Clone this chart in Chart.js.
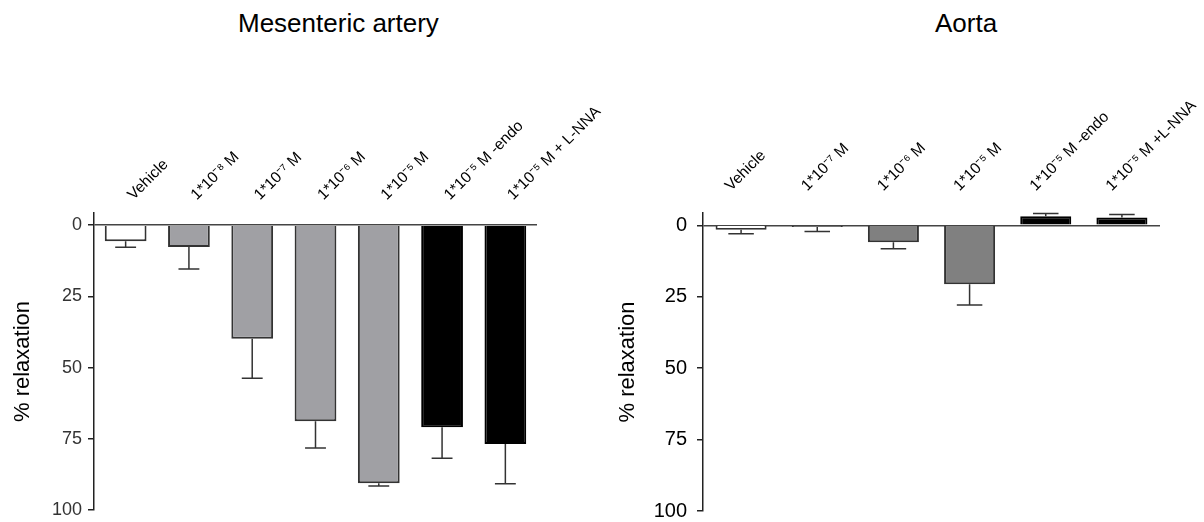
<!DOCTYPE html>
<html>
<head>
<meta charset="utf-8">
<script src="https://cdn.jsdelivr.net/npm/chart.js@4/dist/chart.umd.min.js"></script>
<style>
  html, body { margin: 0; padding: 0; background: #fff; overflow: hidden; }
  body { width: 1204px; height: 522px; position: relative; font-family: "Liberation Sans", Arial, sans-serif; }
  .title { position: absolute; top: 10px; font-size: 26px; line-height: 26px; color: #000; white-space: nowrap; }
  .panel { position: absolute; top: 0; width: 602px; height: 522px; }
</style>
</head>
<body>
<div class="title" style="left:238px">Mesenteric artery</div>
<div class="title" style="left:935px">Aorta</div>
<div class="panel" style="left:0"><canvas id="mesChart" width="602" height="522"></canvas></div>
<div class="panel" style="left:602px"><canvas id="aortaChart" width="602" height="522"></canvas></div>
<script>
// Mesenteric artery
const mesLabels = ['Vehicle', '1*10⁻⁸ M', '1*10⁻⁷ M', '1*10⁻⁶ M', '1*10⁻⁵ M', '1*10⁻⁵ M -endo', '1*10⁻⁵ M + L-NNA'];
const mesValues = [5.6, 7.6, 39.9, 68.8, 90.6, 70.9, 76.8];
const mesErrors = [2.1, 7.8, 13.8, 9.4, 1.0, 10.9, 14.0];
const mesColors = ['#ffffff', '#a0a0a4', '#a0a0a4', '#a0a0a4', '#a0a0a4', '#000000', '#000000'];

// Aorta
const aortaLabels = ['Vehicle', '1*10⁻⁷ M', '1*10⁻⁶ M', '1*10⁻⁵ M', '1*10⁻⁵ M -endo', '1*10⁻⁵ M +L-NNA'];
const aortaValues = [1.6, 0.6, 5.9, 20.6, -3.2, -2.7];
const aortaErrors = [1.4, 1.6, 2.3, 7.3, 0.9, 1.1];
const aortaColors = ['#ffffff', '#808080', '#808080', '#808080', '#000000', '#000000'];

// y axis
const yTicks = [0, 25, 50, 75, 100];
const yMin = -4.3;
const yMax = 100;

const FONT = '"Liberation Sans", Arial, sans-serif';

// One-sided error bars, drawn away from zero
const errorBars = {
  id: 'errorBars',
  afterDatasetsDraw(chart, args, opts) {
    const ds = chart.data.datasets[0];
    const meta = chart.getDatasetMeta(0);
    const yScale = chart.scales.y;
    const ctx = chart.ctx;
    ctx.save();
    ctx.strokeStyle = opts.color;
    ctx.lineWidth = opts.width;
    meta.data.forEach((bar, i) => {
      const v = ds.data[i];
      const err = ds.errors[i];
      const y0 = yScale.getPixelForValue(v);
      const y1 = yScale.getPixelForValue(v < 0 ? v - err : v + err);
      const half = bar.width * opts.cap / 2;
      ctx.beginPath();
      ctx.moveTo(bar.x, y0);
      ctx.lineTo(bar.x, y1);
      ctx.moveTo(bar.x - half, y1);
      ctx.lineTo(bar.x + half, y1);
      ctx.stroke();
    });
    ctx.restore();
  }
};

function createPanel(id, labels, values, errors, colors, g) {
  const ctx = document.getElementById(id).getContext('2d');
  return new Chart(ctx, {
    type: 'bar',
    data: {
      labels,
      datasets: [{
        data: values,
        errors,
        backgroundColor: colors,
        borderColor: colors.map(c => c === '#000000' ? '#000000' : '#333333'),
        borderWidth: 2,
        categoryPercentage: 1,
        barPercentage: g.barPct,
      }],
    },
    options: {
      responsive: false,
      animation: false,
      layout: { padding: { left: 0, right: g.padRight, top: 0, bottom: g.padBottom } },
      plugins: {
        legend: { display: false },
        tooltip: { enabled: false },
        errorBars: { color: '#333', width: 1.5, cap: 0.5 },
      },
      scales: {
        x: {
          position: 'top',
          offset: true,
          afterFit: s => { s.height = 213; s.paddingLeft = 0; s.paddingRight = 0; },
          grid: { display: false, drawTicks: false },
          border: { display: false },
          ticks: {
            autoSkip: false,
            minRotation: 45,
            maxRotation: 45,
            padding: g.labelPad,
            labelOffset: g.labelShift,
            font: { family: FONT, size: 15.5 },
            color: '#000',
          },
        },
        y: {
          reverse: true,
          min: yMin,
          max: yMax,
          afterBuildTicks: s => { s.ticks = yTicks.map(v => ({ value: v })); },
          afterFit: s => { s.width = g.axisWidth; s.paddingTop = 0; s.paddingBottom = 0; },
          border: { display: true, color: '#222', width: 1.5 },
          grid: {
            color: c => (c.tick && c.tick.value === 0 ? '#444' : 'rgba(0,0,0,0)'),
            tickColor: '#222',
            tickLength: 6,
            lineWidth: 1.5,
          },
          ticks: {
            padding: g.tickPad,
            font: { family: FONT, size: g.tickSize },
            color: g.tickColor,
          },
          title: {
            display: true,
            text: '% relaxation',
            font: { family: FONT, size: 22 },
            color: '#000',
            padding: { top: g.titlePad, bottom: 0 },
          },
        },
      },
    },
    plugins: [errorBars],
  });
}

createPanel('mesChart', mesLabels, mesValues, mesErrors, mesColors, {
  barPct: 0.66, padRight: 65, padBottom: 12, axisWidth: 94,
  tickPad: 6, tickSize: 18, tickColor: '#333', titlePad: 10,
  labelPad: 9, labelShift: 18,
});

createPanel('aortaChart', aortaLabels, aortaValues, aortaErrors, aortaColors, {
  barPct: 0.67, padRight: 44, padBottom: 11, axisWidth: 101,
  tickPad: 10, tickSize: 20, tickColor: '#000', titlePad: 13,
  labelPad: 18, labelShift: 0,
});
</script>
</body>
</html>
